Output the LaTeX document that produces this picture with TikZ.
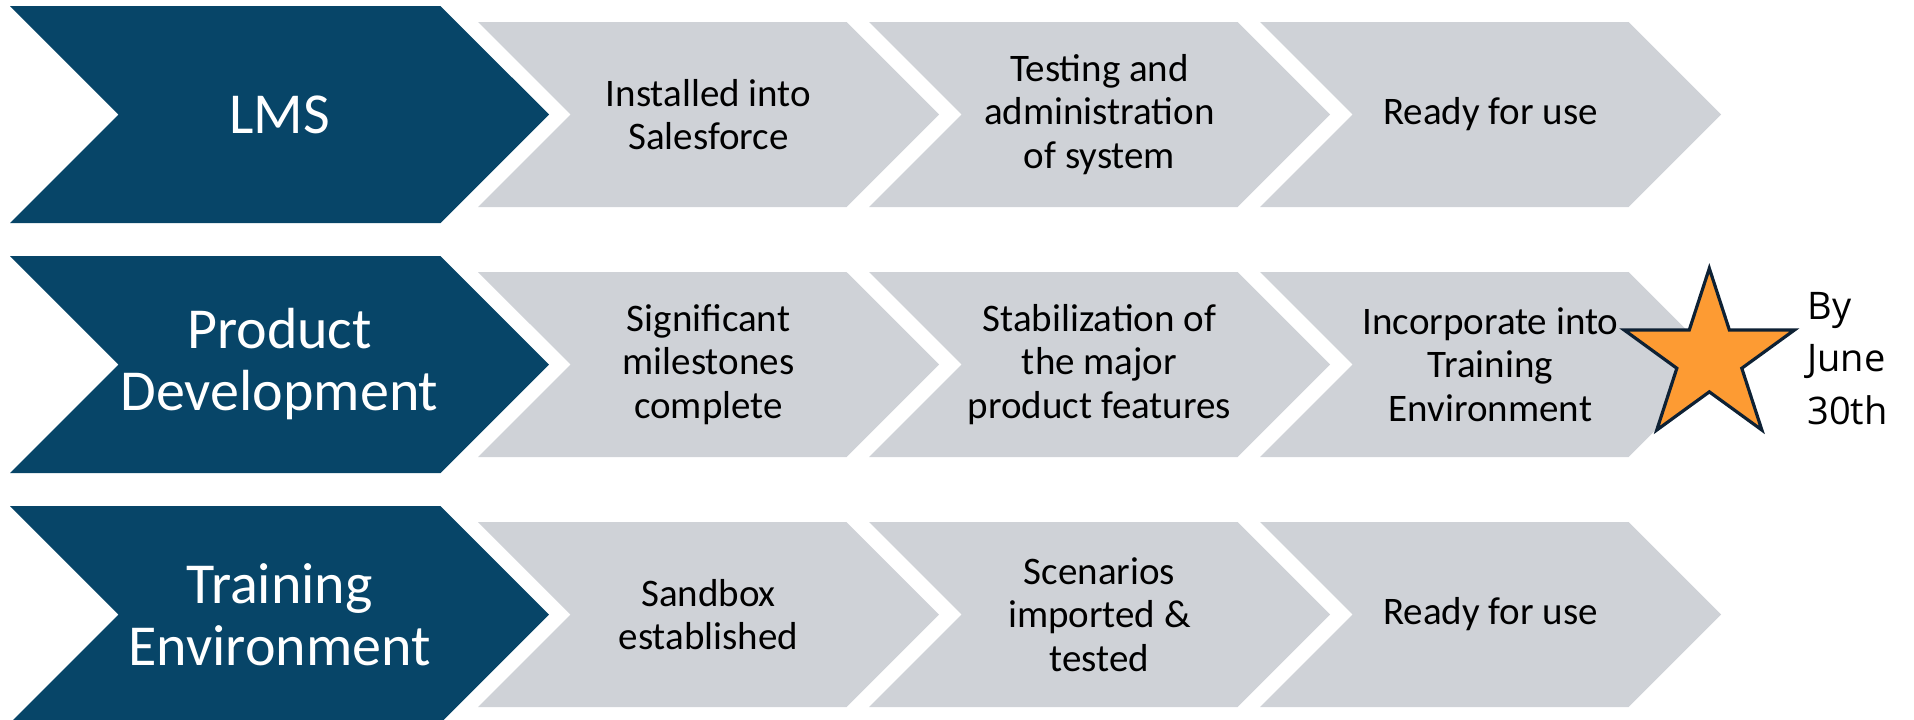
\documentclass[tikz,border=0pt]{standalone}
\usepackage{fontspec}
\setmainfont{Carlito}
\newfontfamily\notefamily{Open Sans}
\usetikzlibrary{shapes.symbols, shapes.geometric, positioning}
\definecolor{navy}{RGB}{7,69,104}
\definecolor{steel}{RGB}{207,210,215}
\definecolor{amber}{RGB}{253,155,51}
\definecolor{ink}{RGB}{14,33,52}
\tikzset{%
	stage/.style={signal, signal from=west, signal to=east, signal pointer angle=90,%
		fill=navy, text=white, minimum width=269.5pt, minimum height=108.5pt,%
		inner sep=0mm, align=center, font=\fontsize{29}{31}\selectfont},
	task/.style={signal, signal from=west, signal to=east, signal pointer angle=90,%
		fill=steel, text=black, minimum width=230.5pt, minimum height=92.5pt,%
		inner sep=0mm, align=center, font=\fontsize{19.5}{21.75}\selectfont},
	goal/.style={star, star points=5, star point ratio=2.618, draw=ink,%
		line width=1.6pt, fill=amber, minimum size=89.4pt, inner sep=0mm},
	deadline/.style={inner sep=0mm, align=left,%
		font=\notefamily\fontsize{19}{26.25}\selectfont}
}
\begin{document}
\begin{tikzpicture}[x=0.5pt, y=-0.5pt]
	\useasboundingbox (0,0) rectangle (1914,719);

	% LMS
	\node[stage] (lms)  at (279.5,114.5)  {LMS};
	\node[task]  (lms1) at (708.5,114.5)  {Installed into\\Salesforce};
	\node[task]  (lms2) at (1099.5,114.5) {Testing and\\administration\\of system};
	\node[task]  (lms3) at (1490.5,114.5) {Ready for use};

	% product development
	\node[stage] (dev)  at (279.5,364.5)  {Product\\Development};
	\node[task]  (dev1) at (708.5,364.5)  {Significant\\milestones\\complete};
	\node[task]  (dev2) at (1099.5,364.5) {Stabilization of\\the major\\product features};
	\node[task]  (dev3) at (1490.5,364.5) {Incorporate into\\Training\\Environment};

	% training environment
	\node[stage] (env)  at (279.5,614.5)  {Training\\Environment};
	\node[task]  (env1) at (708.5,614.5)  {Sandbox\\established};
	\node[task]  (env2) at (1099.5,614.5) {Scenarios\\imported \&\\tested};
	\node[task]  (env3) at (1490.5,614.5) {Ready for use};

	\node[goal] (star) at (1709.3,357.7) {};
	\node[deadline, anchor=north west] (date) at (1807,291.5) {By\\June\\30th};
\end{tikzpicture}
\end{document}
